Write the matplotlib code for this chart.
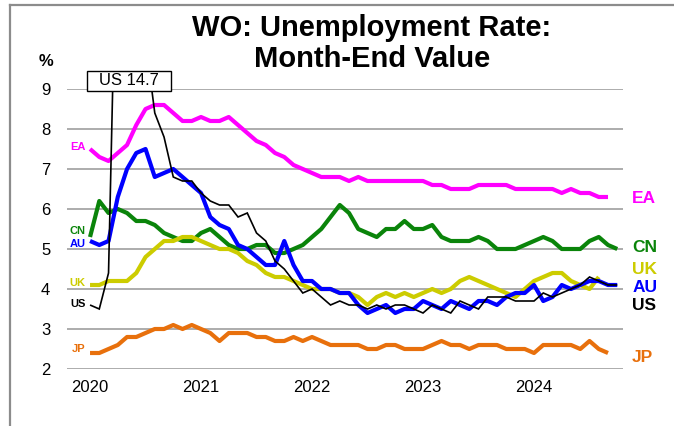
import numpy as np
import matplotlib
matplotlib.use("Agg")
import matplotlib.pyplot as plt
from matplotlib.lines import Line2D
from matplotlib.patches import Rectangle

plt.rcParams['font.family'] = ['Liberation Sans', 'DejaVu Sans']

# ---- data (monthly, starting Jan 2020) ----
ea = [7.5, 7.3, 7.2, 7.4, 7.6, 8.1, 8.5, 8.6, 8.6, 8.4, 8.2, 8.2,
      8.3, 8.2, 8.2, 8.3, 8.1, 7.9, 7.7, 7.6, 7.4, 7.3, 7.1, 7.0,
      6.9, 6.8, 6.8, 6.8, 6.7, 6.8, 6.7, 6.7, 6.7, 6.7, 6.7, 6.7,
      6.7, 6.6, 6.6, 6.5, 6.5, 6.5, 6.6, 6.6, 6.6, 6.6, 6.5, 6.5,
      6.5, 6.5, 6.5, 6.4, 6.5, 6.4, 6.4, 6.3, 6.3]
cn = [5.3, 6.2, 5.9, 6.0, 5.9, 5.7, 5.7, 5.6, 5.4, 5.3, 5.2, 5.2,
      5.4, 5.5, 5.3, 5.1, 5.0, 5.0, 5.1, 5.1, 4.9, 4.9, 5.0, 5.1,
      5.3, 5.5, 5.8, 6.1, 5.9, 5.5, 5.4, 5.3, 5.5, 5.5, 5.7, 5.5,
      5.5, 5.6, 5.3, 5.2, 5.2, 5.2, 5.3, 5.2, 5.0, 5.0, 5.0, 5.1,
      5.2, 5.3, 5.2, 5.0, 5.0, 5.0, 5.2, 5.3, 5.1, 5.0]
au = [5.2, 5.1, 5.2, 6.3, 7.0, 7.4, 7.5, 6.8, 6.9, 7.0, 6.8, 6.6,
      6.4, 5.8, 5.6, 5.5, 5.1, 5.0, 4.8, 4.6, 4.6, 5.2, 4.6, 4.2,
      4.2, 4.0, 4.0, 3.9, 3.9, 3.6, 3.4, 3.5, 3.6, 3.4, 3.5, 3.5,
      3.7, 3.6, 3.5, 3.7, 3.6, 3.5, 3.7, 3.7, 3.6, 3.8, 3.9, 3.9,
      4.1, 3.7, 3.8, 4.1, 4.0, 4.1, 4.2, 4.2, 4.1, 4.1]
uk = [4.1, 4.1, 4.2, 4.2, 4.2, 4.4, 4.8, 5.0, 5.2, 5.2, 5.3, 5.3,
      5.2, 5.1, 5.0, 5.0, 4.9, 4.7, 4.6, 4.4, 4.3, 4.3, 4.2, 4.1,
      4.0, 4.0, 4.0, 3.9, 3.9, 3.8, 3.6, 3.8, 3.9, 3.8, 3.9, 3.8,
      3.9, 4.0, 3.9, 4.0, 4.2, 4.3, 4.2, 4.1, 4.0, 3.9, 3.8, 4.0,
      4.2, 4.3, 4.4, 4.4, 4.2, 4.1, 4.0, 4.3]
us = [3.6, 3.5, 4.4, 14.7, 13.2, 11.0, 10.2, 8.4, 7.8, 6.8, 6.7, 6.7,
      6.4, 6.2, 6.1, 6.1, 5.8, 5.9, 5.4, 5.2, 4.7, 4.5, 4.2, 3.9,
      4.0, 3.8, 3.6, 3.7, 3.6, 3.6, 3.5, 3.6, 3.5, 3.6, 3.6, 3.5,
      3.4, 3.6, 3.5, 3.4, 3.7, 3.6, 3.5, 3.8, 3.8, 3.8, 3.7, 3.7,
      3.7, 3.9, 3.8, 3.9, 4.0, 4.1, 4.3, 4.2, 4.1, 4.1]
jp = [2.4, 2.4, 2.5, 2.6, 2.8, 2.8, 2.9, 3.0, 3.0, 3.1, 3.0, 3.1,
      3.0, 2.9, 2.7, 2.9, 2.9, 2.9, 2.8, 2.8, 2.7, 2.7, 2.8, 2.7,
      2.8, 2.7, 2.6, 2.6, 2.6, 2.6, 2.5, 2.5, 2.6, 2.6, 2.5, 2.5,
      2.5, 2.6, 2.7, 2.6, 2.6, 2.5, 2.6, 2.6, 2.6, 2.5, 2.5, 2.5,
      2.4, 2.6, 2.6, 2.6, 2.6, 2.5, 2.7, 2.5, 2.4]

years = ['2020', '2021', '2022', '2023', '2024']
yticks = [2, 3, 4, 5, 6, 7, 8, 9]
us_peak_label = 'US 14.7'

# ---- styling ----
C_EA = '#FF00FF'
C_CN = '#0A840A'
C_AU = '#0000FF'
C_UK = '#CCCC00'
C_US = '#000000'
C_JP = '#E8700C'

W, H = 674, 426
fig = plt.figure(figsize=(W / 100, H / 100), dpi=100)
ax = fig.add_axes([67 / W, 1 - 369 / H, (623 - 67) / W, (369 - 89) / H])

series = [(ea, C_EA, 3.0), (cn, C_CN, 3.0), (jp, C_JP, 3.0),
          (uk, C_UK, 3.0), (au, C_AU, 3.0), (us, C_US, 1.2)]
for vals, col, lw in series:
    ax.plot(np.arange(len(vals)), vals, color=col, lw=lw,
            solid_joinstyle='miter' if lw < 2 else 'round',
            solid_capstyle='butt', zorder=3)

ax.set_xlim(-2.49, 57.62)
ax.set_ylim(2, 9)
ax.set_yticks(yticks)
ax.set_yticklabels([str(v) for v in yticks], fontsize=12)
ax.set_xticks([12 * i for i in range(len(years))])
ax.set_xticklabels(years, fontsize=12)
ax.tick_params(axis='both', length=0)
ax.tick_params(axis='y', pad=12)
ax.tick_params(axis='x', pad=8)
ax.yaxis.grid(True, color='#A6A6A6', lw=1.3, zorder=0)
ax.xaxis.grid(False)
for s in ax.spines.values():
    s.set_visible(False)

# left labels
lx = -0.45
for txt, yv, col in [('EA', 7.55, C_EA), ('CN', 5.44, C_CN), ('AU', 5.13, C_AU),
                     ('UK', 4.15, C_UK), ('US', 3.63, C_US), ('JP', 2.5, C_JP)]:
    ax.text(lx, yv, txt, color=col, fontsize=8, fontweight='bold',
            ha='right', va='center')

# right labels
rx = 58.6
for txt, yv, col in [('EA', 6.27, C_EA), ('CN', 5.03, C_CN), ('UK', 4.48, C_UK),
                     ('AU', 4.05, C_AU), ('US', 3.6, C_US), ('JP', 2.3, C_JP)]:
    ax.text(rx, yv, txt, color=col, fontsize=12.5, fontweight='bold',
            ha='left', va='center')

# US peak box
ax.add_patch(Rectangle((-0.32, 8.95), 9.08, 0.5, transform=ax.transData,
                       clip_on=False, fc='white', ec='black', lw=1.0, zorder=6))
ax.text(4.2, 9.2, us_peak_label, ha='center', va='center', fontsize=12,
        zorder=7, clip_on=False)

# % label
fig.text(46 / W, 1 - 62 / H, '%', fontsize=12, fontweight='bold',
         ha='center', va='center')

# title
fig.text(372 / W, 1 - 36 / H, 'WO: Unemployment Rate:', fontsize=21,
         fontweight='bold', ha='center', va='baseline')
fig.text(372 / W, 1 - 67 / H, 'Month-End Value', fontsize=21,
         fontweight='bold', ha='center', va='baseline')

# outer frame (top and left edges)
fig.add_artist(Line2D([10 / W, 10 / W], [0, 1 - 5 / H], transform=fig.transFigure,
                      color='#8C8C8C', lw=1.6))
fig.add_artist(Line2D([10 / W, 1], [1 - 5 / H, 1 - 5 / H], transform=fig.transFigure,
                      color='#8C8C8C', lw=1.6))

fig.savefig('out.png', dpi=100)
